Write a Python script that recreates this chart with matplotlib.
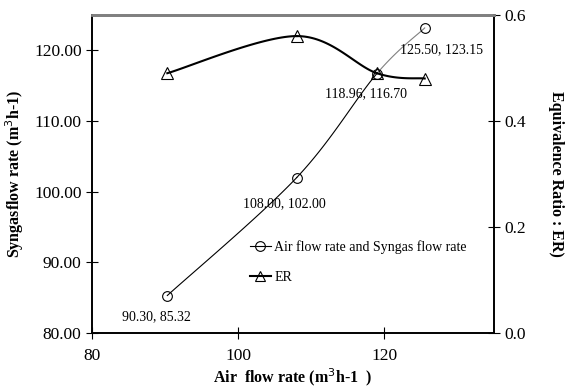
"""
Air flow rate vs syngas flow rate and equivalence ratio (dual axis).
"""
import numpy as np
import matplotlib.pyplot as plt
from matplotlib.lines import Line2D

plt.rcParams['font.family'] = ['Liberation Serif', 'DejaVu Serif']

air_flow = [90.30, 108.00, 118.96, 125.50]
syngas_flow = [85.32, 102.00, 116.70, 123.15]
er_values = [0.49, 0.56, 0.49, 0.48]
point_labels = ["90.30, 85.32", "108.00, 102.00", "118.96, 116.70", "125.50, 123.15"]
label_offsets = [(-8, -15), (-9, -18.5), (-8, -14.5), (12, -16)]


def smooth(xs, ys, n=40):
    """Catmull-Rom curve through the points, like a smoothed Excel line."""
    x = np.asarray(xs, float)
    y = np.asarray(ys, float)
    px = np.concatenate([[x[0]], x, [x[-1]]])
    py = np.concatenate([[y[0]], y, [y[-1]]])
    out_x, out_y = [], []
    t = np.linspace(0, 1, n)
    for i in range(1, len(px) - 2):
        for p, out in ((px, out_x), (py, out_y)):
            p0, p1, p2, p3 = p[i - 1], p[i], p[i + 1], p[i + 2]
            out.append(0.5 * (2 * p1 + (-p0 + p2) * t
                              + (2 * p0 - 5 * p1 + 4 * p2 - p3) * t ** 2
                              + (-p0 + 3 * p1 - 3 * p2 + p3) * t ** 3))
    return out_x, out_y


fig = plt.figure(figsize=(5.68, 3.91), dpi=100)
ax = fig.add_axes([0.162, 0.148, 0.708, 0.814])
ax2 = ax.twinx()

# syngas line: thin, last segment drawn in grey
sx, sy = smooth(air_flow, syngas_flow)
for i, (segx, segy) in enumerate(zip(sx, sy)):
    ax.plot(segx, segy, color='#808080' if i == 2 else 'black', lw=0.8, zorder=2)
ax.plot(air_flow, syngas_flow, ls='none', marker='o', ms=7, mfc='none',
        mec='black', mew=0.8, zorder=3)
for x, y, lab, off in zip(air_flow, syngas_flow, point_labels, label_offsets):
    ax.annotate(lab, (x, y), xytext=off, textcoords='offset points',
                ha='center', va='center', fontsize=10)

ex, ey = smooth(air_flow, er_values)
for segx, segy in zip(ex, ey):
    ax2.plot(segx, segy, color='black', lw=1.5, zorder=2)
ax2.plot(air_flow, er_values, ls='none', marker='^', ms=9, mfc='none',
         mec='black', mew=0.8, zorder=3)

ax.set_xlim(80, 135)
ax.set_ylim(80, 125)
ax2.set_ylim(0, 0.6)
ax.set_xticks([80, 100, 120])
ax.set_yticks([80, 90, 100, 110, 120])
ax.set_yticklabels([f"{v:.2f}" for v in [80, 90, 100, 110, 120]])
ax2.set_yticks([0, 0.2, 0.4, 0.6])
ax2.set_yticklabels(["0.0", "0.2", "0.4", "0.6"])

for a in (ax, ax2):
    a.tick_params(direction='inout', length=8, width=0.8, labelsize=12.5)
    a.spines['top'].set_color('#808080')
    a.spines['top'].set_linewidth(2)
    for s in ('left', 'right', 'bottom'):
        a.spines[s].set_linewidth(1.2)
ax.tick_params(axis='x', pad=7)

ax.set_xlabel("Air  flow rate (m$^3$h-1  )", fontsize=11.5, fontweight='bold', labelpad=1)
ax.set_ylabel("Syngasflow rate (m$^3$h-1)", fontsize=11.5, fontweight='bold', labelpad=6)
ax2.set_ylabel("Equivalence Ratio : ER)", fontsize=11.5, fontweight='bold',
               rotation=270, labelpad=27)

handles = [
    Line2D([], [], color='black', lw=0.8, marker='o', ms=7, mfc='none', mew=0.8),
    Line2D([], [], color='black', lw=1.5, marker='^', ms=7, mfc='none', mew=0.8),
]
fig.legend(handles, ["Air flow rate and Syngas flow rate", "ER"],
           loc='upper left', bbox_to_anchor=(0.44, 0.385), frameon=False,
           fontsize=10, handlelength=1.5, handletextpad=0.25, labelspacing=1.2,
           borderpad=0, borderaxespad=0)

fig.savefig("out.png", dpi=100)
